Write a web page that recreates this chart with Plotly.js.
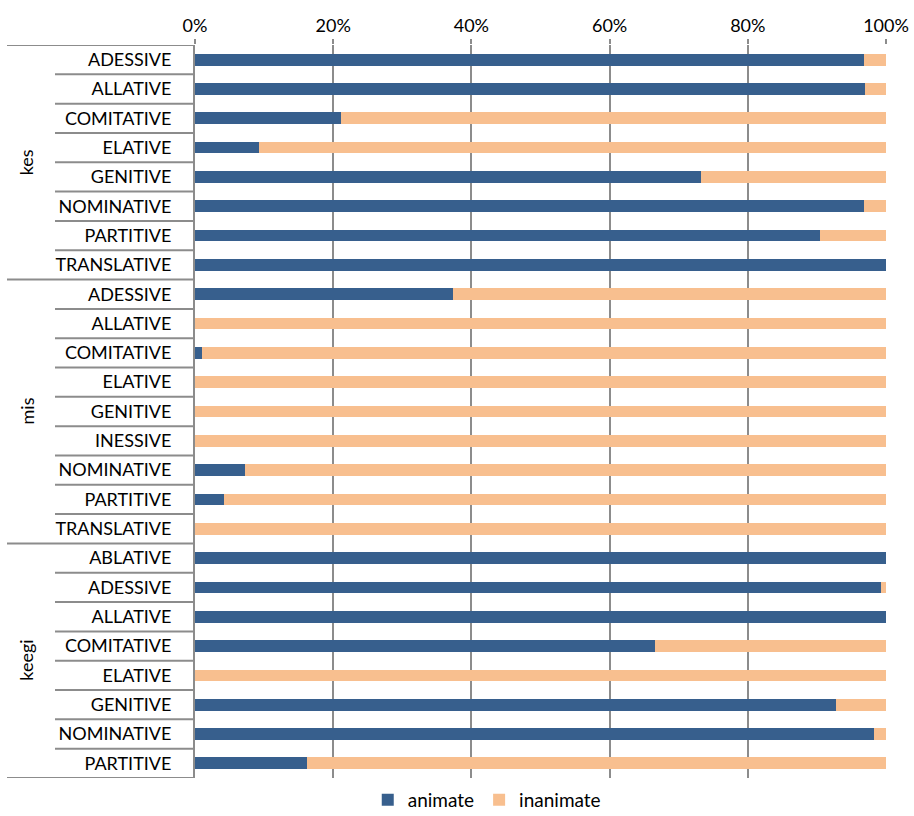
<!DOCTYPE html>
<html>
<head>
<meta charset="utf-8">
<script src="https://cdn.plot.ly/plotly-3.0.1.min.js"></script>
<style>html,body{margin:0;padding:0;background:#fff;}#chart{width:914px;height:816px;}</style>
</head>
<body>
<div id="chart"></div>
<script>
// Groups (pronoun) and their case categories, top to bottom
const groups = ["kes", "mis", "keegi"];
const kesCases = ["ADESSIVE","ALLATIVE","COMITATIVE","ELATIVE","GENITIVE","NOMINATIVE","PARTITIVE","TRANSLATIVE"];
const misCases = ["ADESSIVE","ALLATIVE","COMITATIVE","ELATIVE","GENITIVE","INESSIVE","NOMINATIVE","PARTITIVE","TRANSLATIVE"];
const keegiCases = ["ABLATIVE","ADESSIVE","ALLATIVE","COMITATIVE","ELATIVE","GENITIVE","NOMINATIVE","PARTITIVE"];

// Share (%) animate / inanimate per category
const kesAnimate   = [96.8, 97.0, 21.1, 9.3, 73.2, 96.8, 90.4, 100];
const kesInanimate = [3.2, 3.0, 78.9, 90.7, 26.8, 3.2, 9.6, 0];
const misAnimate   = [37.3, 0, 1.0, 0, 0, 0, 7.2, 4.2, 0];
const misInanimate = [62.7, 100, 99.0, 100, 100, 100, 92.8, 95.8, 100];
const keegiAnimate   = [100, 99.3, 100, 66.6, 0, 92.8, 98.3, 16.2];
const keegiInanimate = [0, 0.7, 0, 33.4, 100, 7.2, 1.7, 83.8];

const xTicks = [0, 20, 40, 60, 80, 100];

const caseLists = [kesCases, misCases, keegiCases];
const animateLists = [kesAnimate, misAnimate, keegiAnimate];
const inanimateLists = [kesInanimate, misInanimate, keegiInanimate];

const labels = [], animate = [], inanimate = [], groupStart = [];
caseLists.forEach((cs, g) => {
  groupStart.push(labels.length);
  cs.forEach((c, i) => {
    labels.push(c);
    animate.push(animateLists[g][i]);
    inanimate.push(inanimateLists[g][i]);
  });
});
const n = labels.length;
const idx = labels.map((_, i) => i);

const BLUE = "#375F8D", ORANGE = "#F8BF8F", GRID = "#8C8C8C";
const FONT = "Lato, 'Open Sans', sans-serif";
const FS = 18;

const traces = [
  {type: "bar", orientation: "h", name: "animate", y: idx, x: animate,
   marker: {color: BLUE, line: {width: 0}}, width: 0.4, hoverinfo: "x+name"},
  {type: "bar", orientation: "h", name: "inanimate", y: idx, x: inanimate,
   marker: {color: ORANGE, line: {width: 0}}, width: 0.4, hoverinfo: "x+name"}
];

const plotW = 914 - 195 - 28;
const shapes = [];
const annotations = [];
const innerX = -(195 - 55) / plotW;
const outerX = -(195 - 7) / plotW;
// row dividers in label area
for (let i = 0; i <= n; i++) {
  const isGroupEdge = groupStart.includes(i) || i === n;
  shapes.push({type: "line", xref: "paper", yref: "y",
    x0: isGroupEdge ? outerX : innerX, x1: 0, y0: i - 0.5, y1: i - 0.5,
    line: {color: GRID, width: 2}});
}
// group labels
groups.forEach((g, k) => {
  const start = groupStart[k];
  const end = k + 1 < groups.length ? groupStart[k + 1] : n;
  annotations.push({xref: "paper", yref: "y", x: -(195 - 26) / plotW,
    xanchor: "center", yanchor: "middle",
    y: (start + end - 1) / 2, text: g, showarrow: false, textangle: -90,
    font: {family: FONT, size: FS, color: "#000"}});
});

const layout = {
  width: 914, height: 816,
  margin: {l: 195, r: 28, t: 45, b: 38, autoexpand: false},
  paper_bgcolor: "#fff", plot_bgcolor: "#fff",
  barmode: "stack", bargap: 0.6,
  font: {family: FONT, size: FS, color: "#000"},
  xaxis: {side: "top", range: [0, 100], tickvals: xTicks,
    ticktext: xTicks.map(v => v + "%"),
    showgrid: true, gridcolor: GRID, gridwidth: 2, zeroline: false,
    showline: false, ticks: "outside", ticklen: 5, tickcolor: GRID, tickwidth: 2,
    tickfont: {family: FONT, size: FS, color: "#000"}, fixedrange: true, automargin: false},
  yaxis: {range: [n - 0.5, -0.5], tickvals: idx, ticktext: labels,
    showgrid: false, zeroline: false, showline: true, linecolor: GRID, linewidth: 2,
    ticks: "", ticklabelstandoff: 18, automargin: false,
    tickfont: {family: FONT, size: FS, color: "#000"}, fixedrange: true},
  showlegend: true,
  legend: {orientation: "h", x: 0.25, xanchor: "left", y: -0.03, yanchor: "middle",
    traceorder: "normal", itemwidth: 30, tracegroupgap: 0,
    font: {family: FONT, size: 19, color: "#000"}},
  shapes: shapes, annotations: annotations
};

Plotly.newPlot("chart", traces, layout, {displayModeBar: false, staticPlot: true});
</script>
</body>
</html>
